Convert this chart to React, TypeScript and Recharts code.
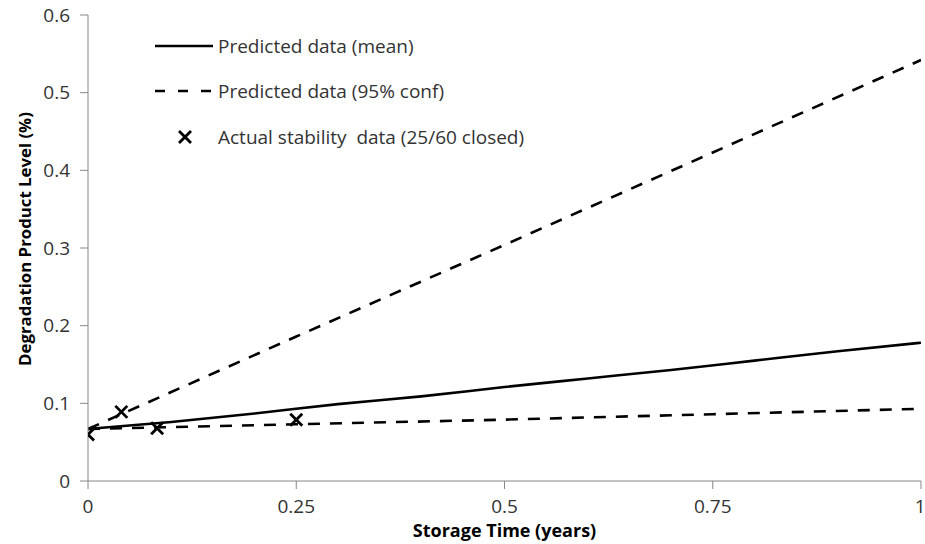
import { ComposedChart, Line, Scatter, XAxis, YAxis, Legend, Label } from "recharts";

// storage time (years) for the predicted mean curve
const meanYears = [0, 0.1, 0.2, 0.3, 0.4, 0.5, 0.6, 0.7, 0.8, 0.9, 1];
const meanLevel = [0.067, 0.076, 0.087, 0.099, 0.109, 0.121, 0.132, 0.143, 0.155, 0.167, 0.178];

// 95% confidence bounds
const confYears = [0, 0.25, 0.5, 0.75, 1];
const upperLevel = [0.067, 0.186, 0.304, 0.423, 0.542];
const lowerLevel = [0.067, 0.073, 0.079, 0.086, 0.093];

// actual stability data (25/60 closed)
const actualYears = [0, 0.04, 0.083, 0.25];
const actualLevel = [0.06, 0.089, 0.068, 0.079];

const xTicks = [0, 0.25, 0.5, 0.75, 1];
const yTicks = [0, 0.1, 0.2, 0.3, 0.4, 0.5, 0.6];

const meanData = meanYears.map((t, i) => ({ t, v: meanLevel[i] }));
const upperData = confYears.map((t, i) => ({ t, v: upperLevel[i] }));
const lowerData = confYears.map((t, i) => ({ t, v: lowerLevel[i] }));
const actualData = actualYears.map((t, i) => ({ t, v: actualLevel[i] }));

const FONT = "'Open Sans', sans-serif";
const TEXT = "#333333";
const AXIS = "#868686";
const LW = 2.6;

const Cross = (props: any) => {
  const { cx, cy } = props;
  const s = 6;
  return (
    <g stroke="#000" strokeWidth={2.8}>
      <line x1={cx - s} y1={cy - s} x2={cx + s} y2={cy + s} />
      <line x1={cx - s} y1={cy + s} x2={cx + s} y2={cy - s} />
    </g>
  );
};

const LegendBox = () => (
  <svg width={600} height={170} style={{ fontFamily: FONT }}>
    <line x1={155} x2={213} y1={46} y2={46} stroke="#000" strokeWidth={LW} />
    <text x={218} y={46} dy="0.36em" fontSize={19} fill={TEXT}>
      Predicted data (mean)
    </text>
    <line x1={155} x2={213} y1={91} y2={91} stroke="#000" strokeWidth={LW} strokeDasharray="10 13" />
    <text x={218} y={91} dy="0.36em" fontSize={19} fill={TEXT}>
      Predicted data (95% conf)
    </text>
    <Cross cx={185} cy={137} />
    <text x={218} y={137} dy="0.36em" fontSize={19} fill={TEXT}>
      {"Actual stability\u00a0 data (25/60 closed)"}
    </text>
  </svg>
);

const App = () => {
  return (
    <div style={{ position: "absolute", left: 0, top: 0, fontFamily: FONT }}>
      <ComposedChart width={925} height={544} margin={{ top: 15, right: 4, bottom: 0, left: 0 }}>
        <XAxis
          type="number"
          dataKey="t"
          domain={[0, 1]}
          ticks={xTicks}
          tickFormatter={(v) => String(v)}
          tickSize={8}
          tickMargin={11}
          height={63}
          stroke={AXIS}
          tick={{ fill: TEXT, fontSize: 19 }}
          allowDataOverflow
        >
          <Label
            value="Storage Time (years)"
            position="insideBottom"
            offset={7}
            fill="#000"
            fontWeight="bold"
            fontSize={18}
          />
        </XAxis>
        <YAxis
          type="number"
          dataKey="v"
          domain={[0, 0.6]}
          ticks={yTicks}
          tickFormatter={(v) => String(v)}
          tickSize={8}
          tickMargin={10}
          width={88}
          stroke={AXIS}
          tick={{ fill: TEXT, fontSize: 19 }}
          allowDataOverflow
        >
          <Label
            content={() => (
              <text
                transform="translate(31,239) rotate(-90)"
                textAnchor="middle"
                fontWeight="bold"
                fontSize={16.8}
                fill="#000"
              >
                Degradation Product Level (%)
              </text>
            )}
          />
        </YAxis>
        <Legend
          layout="vertical"
          align="center"
          verticalAlign="middle"
          content={() => <LegendBox />}
          wrapperStyle={{ left: 0, top: 0, width: 600, height: 170 }}
        />
        <Line
          data={upperData}
          dataKey="v"
          stroke="#000"
          strokeWidth={LW}
          strokeDasharray="12 10"
          dot={false}
          isAnimationActive={false}
        />
        <Line
          data={lowerData}
          dataKey="v"
          stroke="#000"
          strokeWidth={LW}
          strokeDasharray="12 10"
          dot={false}
          isAnimationActive={false}
        />
        <Line
          data={meanData}
          dataKey="v"
          type="monotone"
          stroke="#000"
          strokeWidth={LW}
          dot={false}
          isAnimationActive={false}
        />
        <Scatter data={actualData} dataKey="v" shape={<Cross />} isAnimationActive={false} />
      </ComposedChart>
    </div>
  );
};

export default App;
